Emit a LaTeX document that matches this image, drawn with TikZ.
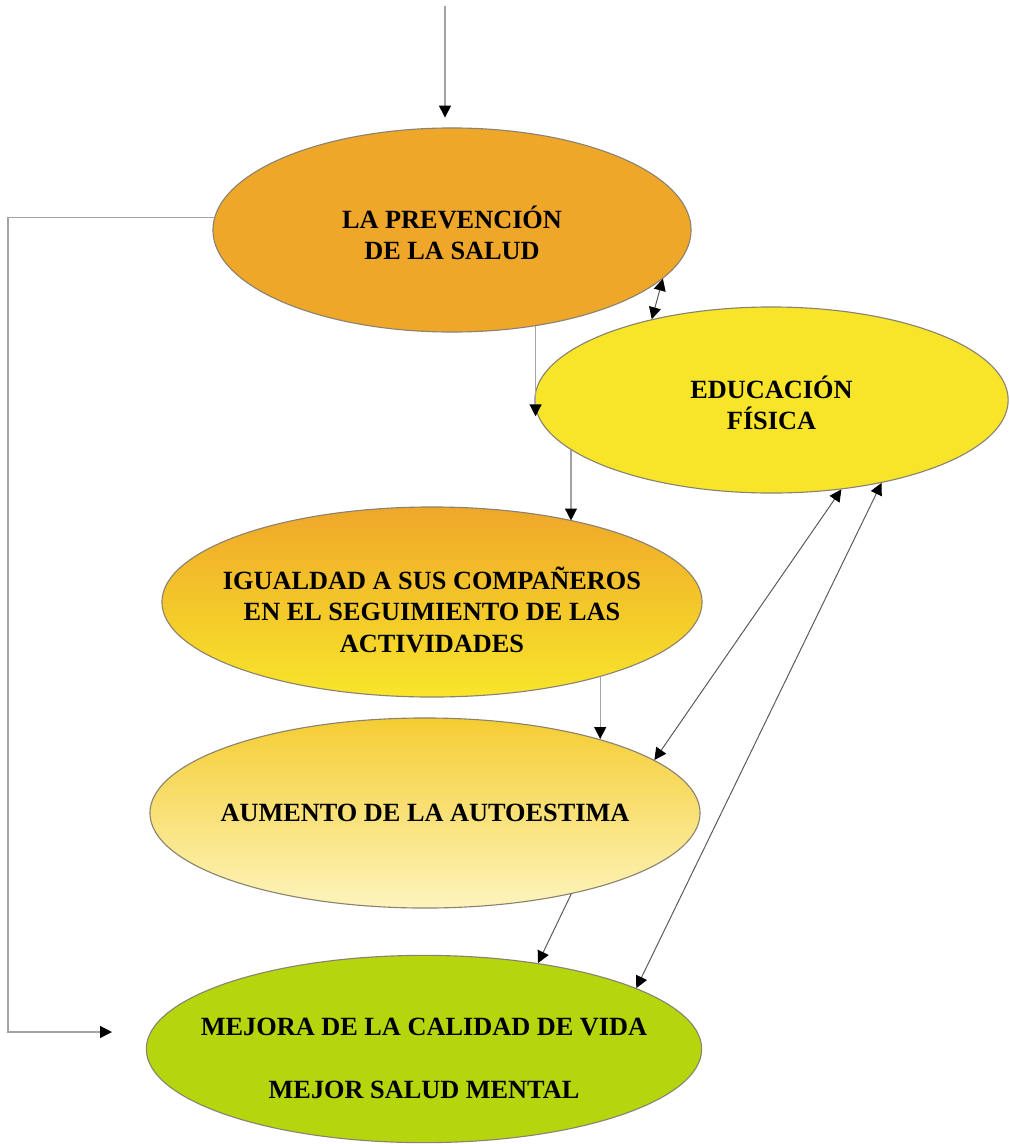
\documentclass[tikz,border=0pt]{standalone}
\usepackage{fontspec}
\setmainfont{Liberation Serif}
\usetikzlibrary{arrows.meta,shapes.geometric}
\definecolor{naranja}{HTML}{EFA72A}
\definecolor{amarillo}{HTML}{F8E52A}
\definecolor{oro}{HTML}{F5CD32}
\definecolor{crema}{HTML}{FDF4BC}
\definecolor{verde}{HTML}{B5D50C}
\definecolor{borde}{HTML}{8A8370}
\definecolor{linea}{HTML}{A3A3A3}
\begin{document}
\begin{tikzpicture}[
    x=0.025cm, y=-0.025cm,
    bubble/.style={draw=borde, ellipse, line width=0.8pt, inner sep=0pt},
    txt/.style={align=center, inner sep=0pt, font=\bfseries\fontsize{18.7}{22.5}\selectfont},
    arrow/.style={-{Triangle[length=8.5pt, width=8.5pt, color=black]}, draw=linea, line width=0.9pt},
    twoway/.style={{Triangle[length=8.5pt, width=8.5pt, color=black]}-{Triangle[length=8.5pt, width=8.5pt, color=black]}, draw=black!65, line width=0.7pt}
]
    \useasboundingbox (0,0) rectangle (1010,1144);

    \node[bubble, fill=naranja, minimum width=11.95cm, minimum height=5.1cm,
          label={[txt, yshift=-2pt]center:LA PREVENCIÓN\\DE LA SALUD}] (prev) at (452,230) {};
    \node[bubble, fill=amarillo, minimum width=11.83cm, minimum height=4.65cm,
          label={[txt, yshift=-2pt]center:EDUCACIÓN\\FÍSICA}] (edfis) at (771.5,400) {};
    \node[bubble, top color=naranja, bottom color=amarillo, minimum width=13.5cm, minimum height=4.75cm,
          label={[txt, yshift=-5.5pt]center:IGUALDAD A SUS COMPAÑEROS\\EN EL SEGUIMIENTO DE LAS\\ACTIVIDADES}] (igual) at (432,602) {};
    \node[bubble, top color=oro, bottom color=crema, minimum width=13.75cm, minimum height=4.75cm,
          label={[txt]center:AUMENTO DE LA AUTOESTIMA}] (autoe) at (425,813) {};
    \node[bubble, fill=verde, minimum width=13.88cm, minimum height=4.68cm,
          label={[txt, yshift=-6.5pt]center:MEJORA DE LA CALIDAD DE VIDA\\[22.5pt]MEJOR SALUD MENTAL}] (mejora) at (424,1049) {};

    \coordinate (src) at (445,6);
    \coordinate (loopx) at (8,0);
    \coordinate (loopend) at (112,1032);

    % entrada y lazo lateral
    \draw[arrow, shorten >=7pt] (src) -- (src |- prev.north);
    \draw[arrow] (prev.177) -- (prev.177 -| loopx) |- (loopend);

    % bajada por la cadena
    \draw[arrow] (prev.311) -- (prev.311 |- edfis.184);
    \draw[arrow] (edfis.194) -- (edfis.194 |- igual.30);
    \draw[arrow] (igual.336) -- (igual.336 |- autoe.23);
    \draw[arrow, draw=black!65, line width=0.7pt] (autoe.331) -- (mejora.37);

    % relaciones con la educacion fisica
    \draw[twoway] (prev.347) -- (edfis.146);
    \draw[twoway] (autoe.13) -- (edfis.308);
    \draw[twoway] (mejora.16) -- (edfis.323);
\end{tikzpicture}
\end{document}
